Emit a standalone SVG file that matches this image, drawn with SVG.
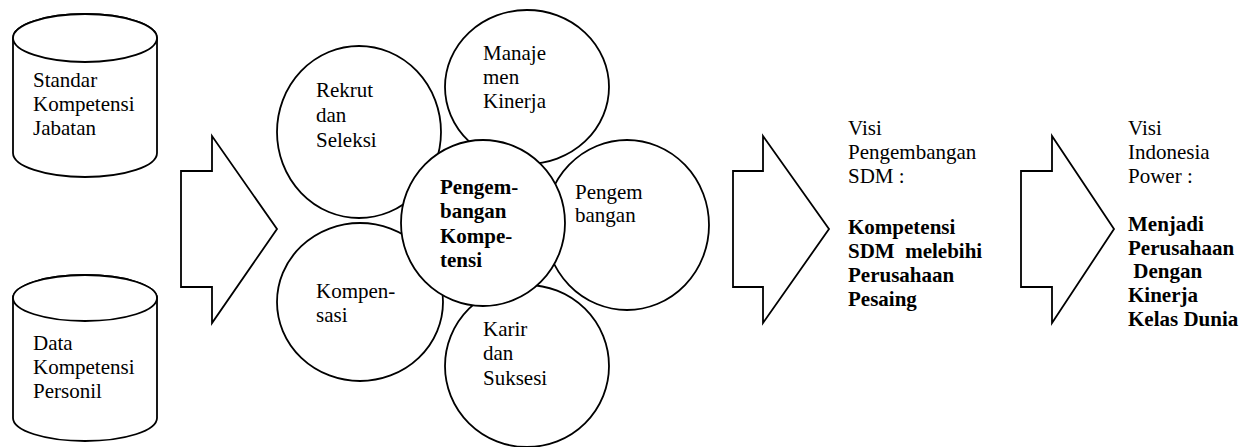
<svg xmlns="http://www.w3.org/2000/svg" width="1245" height="447" viewBox="0 0 1245 447">
<style>
.s{fill:#fff;stroke:#000;stroke-width:1.8}
.t{font-family:"Liberation Serif","Times New Roman",serif;font-size:21px;fill:#000}
.b{font-weight:bold}
</style>
<rect width="1245" height="447" fill="#fff"/>
<g id="cyl-standar">
<path class="s" d="M13,38 V153 A72,24 0 0 0 157,153 V38 A72,24 0 0 0 13,38 Z"/>
<ellipse class="s" cx="85" cy="38" rx="72" ry="24"/>
<text class="t" x="33" y="87">Standar</text>
<text class="t" x="33" y="111">Kompetensi</text>
<text class="t" x="33" y="135">Jabatan</text>
</g>
<g id="cyl-data">
<path class="s" d="M13,298 V418 A72,23 0 0 0 157,418 V298 A72,23 0 0 0 13,298 Z"/>
<ellipse class="s" cx="85" cy="298" rx="72" ry="23"/>
<text class="t" x="33" y="350">Data</text>
<text class="t" x="33" y="374">Kompetensi</text>
<text class="t" x="33" y="398">Personil</text>
</g>
<g id="connectors">
<polygon class="s" points="181,171 212,171 212,136 277,229 212,323 212,287 181,287"/>
<polygon class="s" points="733,171 763,171 763,136 829,229 763,323 763,287 733,287"/>
<polygon class="s" points="1021,171 1052,171 1052,136 1114,229 1052,323 1052,287 1021,287"/>
</g>
<g id="rekrut">
<ellipse class="s" cx="359" cy="132" rx="82" ry="86"/>
<text class="t" x="316" y="97">Rekrut</text>
<text class="t" x="316" y="122">dan</text>
<text class="t" x="316" y="147">Seleksi</text>
</g>
<g id="manajemen">
<ellipse class="s" cx="527" cy="87" rx="82" ry="77"/>
<text class="t" x="483" y="60">Manaje</text>
<text class="t" x="483" y="84">men</text>
<text class="t" x="483" y="108">Kinerja</text>
</g>
<g id="pengembangan">
<ellipse class="s" cx="627" cy="225" rx="82" ry="85"/>
<text class="t" x="575" y="199">Pengem</text>
<text class="t" x="575" y="222">bangan</text>
</g>
<g id="kompensasi">
<ellipse class="s" cx="360" cy="302" rx="83" ry="79"/>
<text class="t" x="316" y="298">Kompen-</text>
<text class="t" x="316" y="322">sasi</text>
</g>
<g id="karir">
<ellipse class="s" cx="527" cy="366" rx="82" ry="81"/>
<text class="t" x="483" y="336">Karir</text>
<text class="t" x="483" y="360">dan</text>
<text class="t" x="483" y="385">Suksesi</text>
</g>
<g id="pengembangan-kompetensi">
<ellipse class="s" cx="483" cy="223" rx="82" ry="83"/>
<text class="t b" x="440" y="194">Pengem-</text>
<text class="t b" x="440" y="218">bangan</text>
<text class="t b" x="440" y="243">Kompe-</text>
<text class="t b" x="440" y="267">tensi</text>
</g>
<g id="visi-sdm">
<text class="t" x="848" y="135">Visi</text>
<text class="t" x="848" y="159">Pengembangan</text>
<text class="t" x="848" y="183">SDM :</text>
<text class="t b" x="848" y="234">Kompetensi</text>
<text class="t b" x="848" y="258" xml:space="preserve">SDM  melebihi</text>
<text class="t b" x="848" y="282">Perusahaan</text>
<text class="t b" x="848" y="306">Pesaing</text>
</g>
<g id="visi-ip">
<text class="t" x="1128" y="135">Visi</text>
<text class="t" x="1128" y="159">Indonesia</text>
<text class="t" x="1128" y="183">Power :</text>
<text class="t b" x="1128" y="231">Menjadi</text>
<text class="t b" x="1128" y="255">Perusahaan</text>
<text class="t b" x="1128" y="278" xml:space="preserve"> Dengan</text>
<text class="t b" x="1128" y="302">Kinerja</text>
<text class="t b" x="1128" y="326">Kelas Dunia</text>
</g>
</svg>
